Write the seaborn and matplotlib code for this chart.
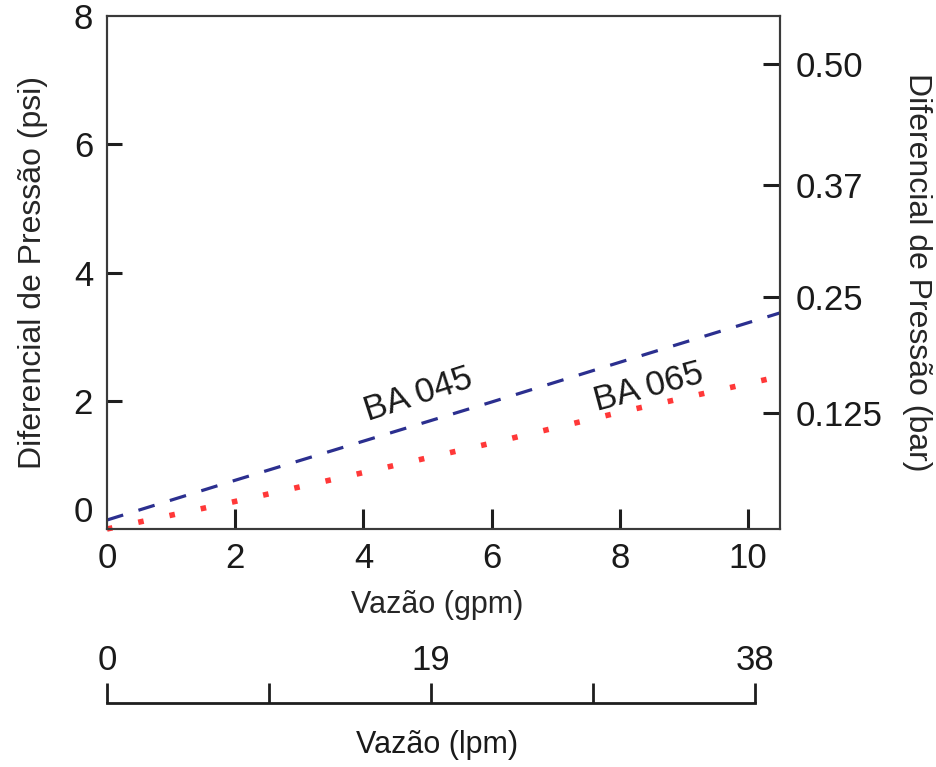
import matplotlib
matplotlib.use("Agg")
import matplotlib.pyplot as plt
import seaborn as sns
from matplotlib.ticker import FixedLocator

# Data (flow in gpm, pressure drop in psi)
gpm_ba045 = [0, 2, 4, 6, 8, 10.5]
psi_ba045 = [0.14, 0.76, 1.37, 1.98, 2.60, 3.37]
gpm_ba065 = [0, 2, 4, 6, 8, 10.5]
psi_ba065 = [0.0, 0.43, 0.88, 1.34, 1.82, 2.38]

gpm_ticks = [2, 4, 6, 8, 10]
gpm_corner = [0]
psi_ticks = [2, 4, 6]
psi_corner = [0, 8]
bar_ticks = [0.125, 0.25, 0.37, 0.50]
bar_labels = ["0.125", "0.25", "0.37", "0.50"]
lpm_ticks = [0, 19, 38]
lpm_minor = [9.5, 28.5]

PSI_PER_BAR = 14.5
SPINE = "#3a3a3a"
TICK = "#1e1e1e"
LABEL = "#1a1a1a"

sns.set_theme(style="white")
plt.rcParams["font.family"] = ["Liberation Sans", "DejaVu Sans"]
plt.rcParams["text.color"] = LABEL

fig = plt.figure(figsize=(9.36, 7.67), dpi=100)
ax = fig.add_axes([107 / 936, 1 - 529 / 767, 673 / 936, 513 / 767])

sns.lineplot(x=gpm_ba045, y=psi_ba045, ax=ax, color="#2b2f8f", lw=2.3,
             linestyle=(0, (5.3, 5.0)))
sns.lineplot(x=gpm_ba065, y=psi_ba065, ax=ax, color="#ff3838", lw=4.0,
             linestyle=(0, (1, 4.75)), dash_capstyle="butt", clip_on=False)

ax.set_xlim(0, 10.5)
ax.set_ylim(0, 8)
ax.set_xticks(gpm_ticks)
ax.set_yticks(psi_ticks)
# corner values get a label but no tick mark
ax.set_xticks(gpm_corner, minor=True)
ax.set_xticklabels([str(v) for v in gpm_corner], minor=True)
ax.set_yticks(psi_corner, minor=True)
ax.set_yticklabels([str(v) for v in psi_corner], minor=True)
for s in ax.spines.values():
    s.set_color(SPINE)
    s.set_linewidth(1.5)
ax.tick_params(axis="x", direction="in", length=14.4, width=2.2, color=TICK,
               labelsize=25, pad=9, bottom=True, labelcolor=LABEL)
ax.tick_params(axis="y", direction="in", length=11, width=2.2, color=TICK,
               labelsize=25, pad=10, left=True, labelcolor=LABEL)
ax.tick_params(axis="x", which="minor", length=0, labelsize=25, pad=9,
               bottom=True, labelcolor=LABEL)
ax.tick_params(axis="y", which="minor", length=0, labelsize=25, pad=10,
               left=True, labelcolor=LABEL)
# the "0" on the psi scale sits just above the corner
ax.get_yticklabels(minor=True)[0].set_va("bottom")

ax.set_xlabel("Vazão (gpm)", fontsize=22, va="center")
ax.xaxis.set_label_coords(0.49, -0.148)
ax.set_ylabel("Diferencial de Pressão (psi)", fontsize=23, va="center")
ax.yaxis.set_label_coords(-0.11, 0.5)

ax.text(4.86, 2.09, "BA 045", fontsize=25, rotation=18, ha="center", va="center",
        rotation_mode="anchor")
ax.text(8.45, 2.21, "BA 065", fontsize=25, rotation=15, ha="center", va="center",
        rotation_mode="anchor")

# right axis in bar
axr = ax.twinx()
axr.set_ylim(0, 8 / PSI_PER_BAR)
axr.set_yticks(bar_ticks)
axr.set_yticklabels(bar_labels)
axr.tick_params(axis="y", direction="in", length=12, width=2.2, color=TICK,
                labelsize=25, pad=11, right=True, labelcolor=LABEL)
for s in axr.spines.values():
    s.set_color(SPINE)
    s.set_linewidth(1.5)
axr.set_ylabel("Diferencial de Pressão (bar)", fontsize=23, rotation=270, va="center")
axr.yaxis.set_label_coords(1.2036, 0.5)

# separate scale in lpm under the chart
axl = fig.add_axes([107 / 936, 1 - 703 / 767, 648 / 936, 20 / 767])
axl.set_xlim(0, 38)
axl.set_ylim(0, 1)
axl.set_yticks([])
for name, s in axl.spines.items():
    s.set_visible(name == "bottom")
axl.spines["bottom"].set_color(TICK)
axl.spines["bottom"].set_linewidth(2)
axl.xaxis.set_major_locator(FixedLocator(lpm_ticks))
axl.xaxis.set_minor_locator(FixedLocator(lpm_minor))
axl.tick_params(axis="x", which="both", direction="in", length=14.4, width=2,
                color=TICK, bottom=True, top=False, labelbottom=False,
                labeltop=True, labelsize=25, pad=4, labelcolor=LABEL)
axl.patch.set_visible(False)

fig.text(437 / 936, 1 - 745 / 767, "Vazão (lpm)", fontsize=22, ha="center", va="center")

fig.savefig("out.png", dpi=100)
